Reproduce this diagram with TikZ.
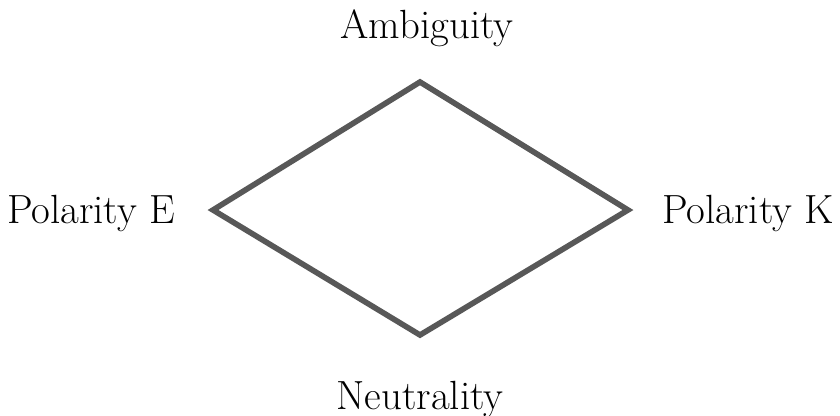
\documentclass[tikz,border=0pt]{standalone}
\usepackage{xcolor}
\definecolor{edgegray}{RGB}{88, 88, 88}
\usepackage{tikz}
\usetikzlibrary{positioning}

\begin{document}
\begin{tikzpicture}[
  x=0.025cm, y=-0.025cm,
  pole/.style={font=\fontsize{29}{33}\selectfont, inner sep=0pt, anchor=base},
  edge/.style={draw=edgegray, line width=4pt, line join=miter}
]
  \useasboundingbox (0,0) rectangle (840,415);

  \coordinate (top) at (420,82);
  \coordinate (left) at (213,210);
  \coordinate (right) at (628,210);
  \coordinate (bottom) at (420,335);

  \draw[edge] (top) -- (right) -- (bottom) -- (left) -- cycle;

  \node[pole] (amb) at (427,38) {Ambiguity};
  \node[pole] (pole) at (91,223) {Polarity E};
  \node[pole] (polk) at (748,223) {Polarity K};
  \node[pole] (neu) at (420,409) {Neutrality};
\end{tikzpicture}
\end{document}
